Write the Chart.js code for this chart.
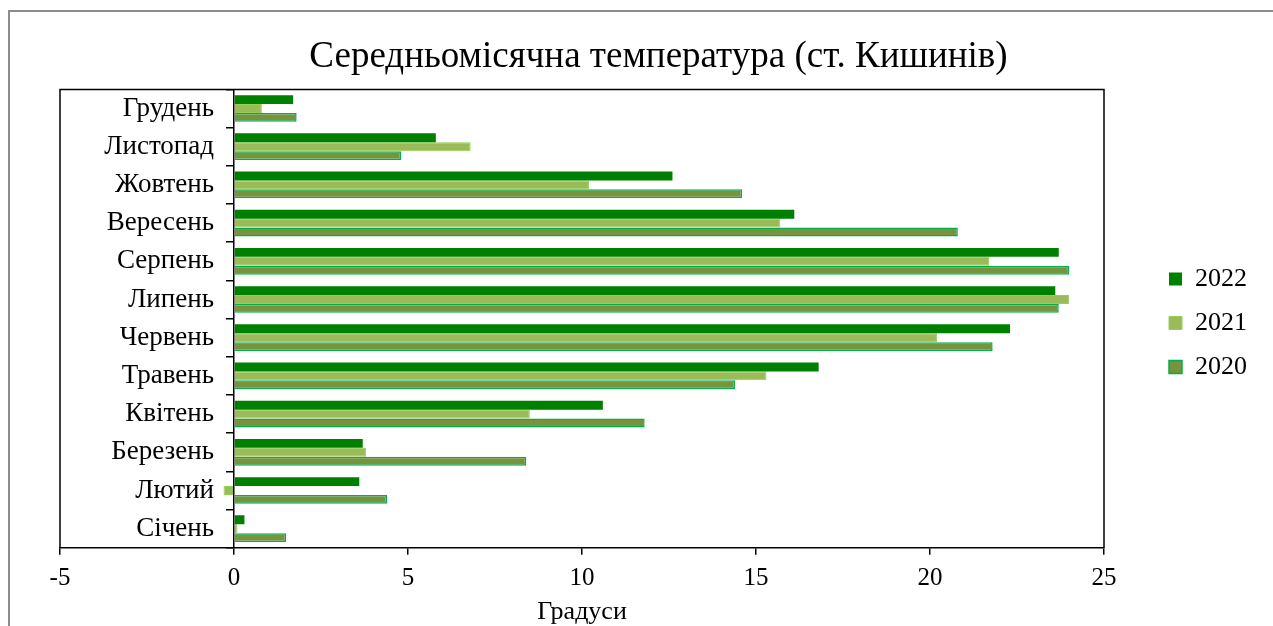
<!DOCTYPE html>
<html>
<head>
<meta charset="utf-8">
<script src="https://cdn.jsdelivr.net/npm/chart.js@4/dist/chart.umd.min.js"></script>
<style>
  html, body { margin: 0; padding: 0; background: #fff; }
  #wrap { width: 1273px; height: 626px; }
</style>
</head>
<body>
<div id="wrap"><canvas id="tempChart"></canvas></div>
<script>
// months, January first (drawn from the bottom up)
const months = ['Січень', 'Лютий', 'Березень', 'Квітень', 'Травень', 'Червень',
                'Липень', 'Серпень', 'Вересень', 'Жовтень', 'Листопад', 'Грудень'];
const temps2022 = [0.3, 3.6, 3.7, 10.6, 16.8, 22.3, 23.6, 23.7, 16.1, 12.6, 5.8, 1.7];
const temps2021 = [0.1, -0.3, 3.8, 8.5, 15.3, 20.2, 24.0, 21.7, 15.7, 10.2, 6.8, 0.8];
const temps2020 = [1.5, 4.4, 8.4, 11.8, 14.4, 21.8, 23.7, 24.0, 20.8, 14.6, 4.8, 1.8];
const xTicks = [-5, 0, 5, 10, 15, 20, 25];

const serif = 'Liberation Serif, Times New Roman, serif';
Chart.defaults.color = '#000';
Chart.defaults.font.family = serif;

// plot-area frame and outer chart frame
const framePlugin = {
    id: 'frames',
    beforeDraw(chart) {
        // y axis sits at x = 0, so push its month labels away from the axis line
        const items = chart.scales.y.getLabelItems(chart.chartArea);
        if (!items._shifted) {
            items.forEach(it => { it.options.translation[0] -= 20; });
            items._shifted = true;
        }
    },
    afterDraw(chart) {
        const ctx = chart.ctx;
        const a = chart.chartArea;
        ctx.save();
        ctx.strokeStyle = '#8c8c8c';
        ctx.lineWidth = 2;
        ctx.beginPath();
        ctx.moveTo(9, chart.height);
        ctx.lineTo(9, 11);
        ctx.lineTo(chart.width, 11);
        ctx.stroke();
        ctx.strokeStyle = '#000';
        ctx.lineWidth = 1.5;
        ctx.beginPath();
        ctx.moveTo(a.left, a.bottom);
        ctx.lineTo(a.left, a.top);
        ctx.lineTo(a.right, a.top);
        ctx.lineTo(a.right, a.bottom);
        ctx.stroke();
        ctx.restore();
    }
};

function createTempChart() {
    const ctx = document.getElementById('tempChart').getContext('2d');
    new Chart(ctx, {
        type: 'bar',
        data: {
            labels: months,
            datasets: [{
                label: '2022',
                data: temps2022,
                backgroundColor: '#008000',
                borderColor: '#008000',
                borderWidth: 0
            }, {
                label: '2021',
                data: temps2021,
                backgroundColor: '#9bbb59',
                borderColor: '#92d050',
                borderWidth: 1
            }, {
                label: '2020',
                data: temps2020,
                backgroundColor: '#77933c',
                borderColor: '#00b050',
                borderWidth: 1.5
            }]
        },
        options: {
            indexAxis: 'y',
            responsive: true,
            maintainAspectRatio: false,
            animation: false,
            layout: {
                padding: { left: 60, right: 16, top: 20, bottom: 0 }
            },
            datasets: {
                bar: { barPercentage: 1, categoryPercentage: 0.7 }
            },
            plugins: {
                title: {
                    display: true,
                    text: 'Середньомісячна температура (ст. Кишинів)',
                    font: { size: 37, weight: 'normal' },
                    padding: { top: 15, bottom: 10 }
                },
                legend: {
                    position: 'right',
                    labels: {
                        boxWidth: 13,
                        boxHeight: 13,
                        padding: 18,
                        font: { size: 26 }
                    }
                },
                tooltip: { enabled: false }
            },
            scales: {
                x: {
                    type: 'linear',
                    min: -5,
                    max: 25,
                    afterBuildTicks: axis => {
                        axis.ticks = xTicks.map(v => ({ value: v }));
                    },
                    grid: {
                        drawOnChartArea: false,
                        color: '#000',
                        lineWidth: 1.5,
                        tickLength: 7
                    },
                    border: { color: '#000', width: 1.5 },
                    ticks: { font: { size: 25 }, padding: 9 },
                    title: {
                        display: true,
                        text: 'Градуси',
                        font: { size: 26 },
                        padding: { top: -6, bottom: -2 }
                    }
                },
                y: {
                    position: { x: 0 },
                    reverse: true,
                    grid: {
                        drawOnChartArea: false,
                        offset: true,
                        color: '#000',
                        lineWidth: 1.5,
                        tickLength: 7
                    },
                    border: { color: '#000', width: 1.5 },
                    ticks: { font: { size: 27 } }
                },
                // empty axis, only keeps a gap between plot and legend
                yGap: {
                    type: 'linear',
                    position: 'right',
                    grid: { display: false },
                    border: { display: false },
                    ticks: { display: false },
                    afterFit: axis => { axis.width = 47; }
                }
            }
        },
        plugins: [framePlugin]
    });
}

document.addEventListener('DOMContentLoaded', () => {
    createTempChart();
});
</script>
</body>
</html>
